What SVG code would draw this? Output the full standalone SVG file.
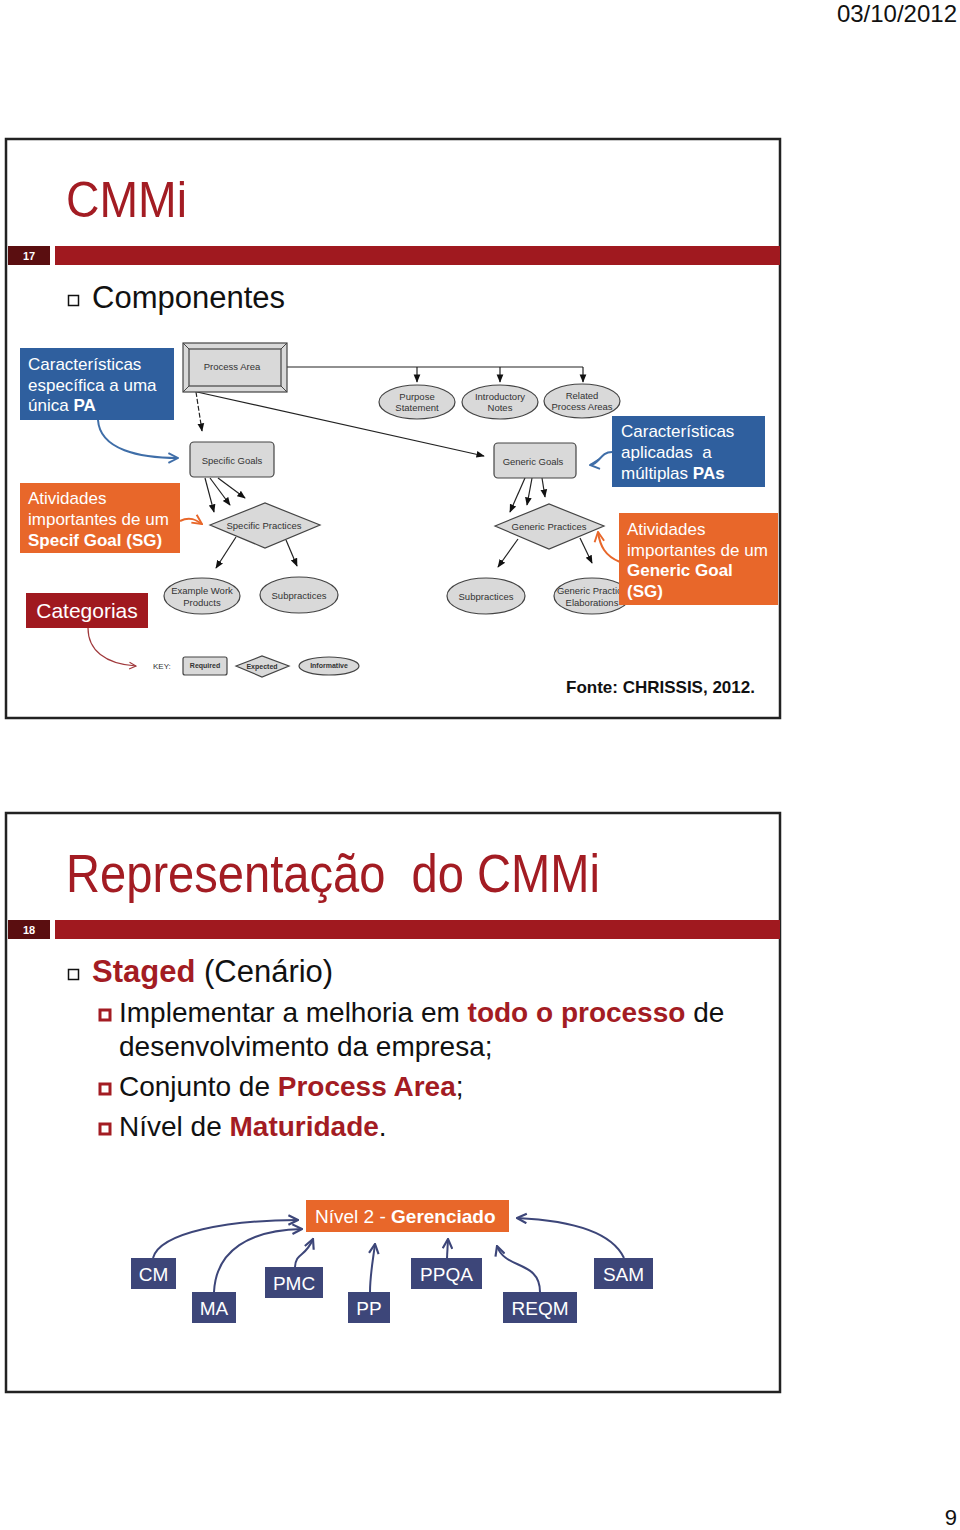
<svg xmlns="http://www.w3.org/2000/svg" width="960" height="1530" viewBox="0 0 960 1530">
<defs>
<style>
.frame{fill:#fff;stroke:#222;stroke-width:2.5}
.ttl{font-family:"Liberation Sans",Arial,sans-serif;fill:#a31c23}
.sans{font-family:"Liberation Sans",Arial,sans-serif}
.dg{font-family:"Liberation Sans",Arial,sans-serif;font-size:9.5px;fill:#333;text-anchor:middle}
.kt{font-family:"Liberation Sans",Arial,sans-serif;font-size:7px;font-weight:bold;fill:#333;text-anchor:middle}
.shape{fill:#d9d9d9;stroke:#444;stroke-width:1.2}
.edge{fill:none;stroke:#222;stroke-width:1.2}
.wt{fill:#fff;font-family:"Liberation Sans",Arial,sans-serif;font-size:17px}
.nv{fill:#3d4679}
.nvt{fill:#fff;font-family:"Liberation Sans",Arial,sans-serif;font-size:19px;text-anchor:middle}
.nvl{fill:none;stroke:#3d4679;stroke-width:2}
.sub{fill:none;stroke:#a31c23;stroke-width:3}
</style>
<marker id="ah" viewBox="0 0 10 10" refX="9" refY="5" markerWidth="7" markerHeight="7" orient="auto"><path d="M0,1 L10,5 L0,9 z" fill="#111"/></marker>
<marker id="chB" viewBox="0 0 10 10" refX="9" refY="5" markerWidth="6" markerHeight="6" orient="auto"><path d="M1,1 L9,5 L1,9" fill="none" stroke="#3f6ea8" stroke-width="1.6"/></marker>
<marker id="chO" viewBox="0 0 10 10" refX="9" refY="5" markerWidth="6" markerHeight="6" orient="auto"><path d="M1,1 L9,5 L1,9" fill="none" stroke="#e8672a" stroke-width="1.6"/></marker>
<marker id="chR" viewBox="0 0 10 10" refX="9" refY="5" markerWidth="7" markerHeight="7" orient="auto"><path d="M1,1 L9,5 L1,9" fill="none" stroke="#a0393c" stroke-width="1.3"/></marker>
<marker id="chN" viewBox="0 0 10 10" refX="9" refY="5" markerWidth="6" markerHeight="6" orient="auto"><path d="M1,1 L9,5 L1,9" fill="none" stroke="#3d4679" stroke-width="1.8"/></marker>
</defs>
<rect width="960" height="1530" fill="#fff"/>
<text x="957" y="22" class="sans" font-size="24" text-anchor="end" fill="#111">03/10/2012</text>
<text x="957" y="1525" class="sans" font-size="22" text-anchor="end" fill="#111">9</text>

<!-- Slide 17 -->
<g id="slide17">
<rect x="6" y="139" width="774" height="579" class="frame"/>
<text x="66" y="217" class="ttl" font-size="50" textLength="121" lengthAdjust="spacingAndGlyphs">CMMi</text>
<rect x="8" y="246" width="42" height="19" fill="#5a0e10"/>
<text x="29" y="260" class="sans" font-size="11" font-weight="bold" fill="#fff" text-anchor="middle">17</text>
<rect x="55" y="246" width="725" height="19" fill="#a0191f"/>
<rect x="68.5" y="295.5" width="10" height="10" fill="none" stroke="#111" stroke-width="1.5"/>
<text x="92" y="308" class="sans" font-size="31" fill="#111">Componentes</text>
</g>

<!-- Slide 18 -->
<g id="slide18">
<rect x="6" y="813" width="774" height="579" class="frame"/>
<text x="66" y="892" class="ttl" font-size="53" textLength="534" lengthAdjust="spacingAndGlyphs" xml:space="preserve">Representação  do CMMi</text>
<rect x="8" y="920" width="42" height="19" fill="#5a0e10"/>
<text x="29" y="934" class="sans" font-size="11" font-weight="bold" fill="#fff" text-anchor="middle">18</text>
<rect x="55" y="920" width="725" height="19" fill="#a0191f"/>
<rect x="68.5" y="969.5" width="10" height="10" fill="none" stroke="#111" stroke-width="1.5"/>
<text x="92" y="982" class="sans" font-size="31" fill="#111"><tspan fill="#a31c23" font-weight="bold">Staged</tspan> (Cenário)</text>
<rect x="100" y="1010" width="10" height="10" class="sub"/>
<text x="119" y="1022" class="sans" font-size="28" fill="#111">Implementar a melhoria em <tspan fill="#a31c23" font-weight="bold">todo o processo</tspan> de</text>
<text x="119" y="1056" class="sans" font-size="28" fill="#111">desenvolvimento da empresa;</text>
<rect x="100" y="1084" width="10" height="10" class="sub"/>
<text x="119" y="1096" class="sans" font-size="28" fill="#111">Conjunto de <tspan fill="#a31c23" font-weight="bold">Process Area</tspan>;</text>
<rect x="100" y="1124" width="10" height="10" class="sub"/>
<text x="119" y="1136" class="sans" font-size="28" fill="#111">Nível de <tspan fill="#a31c23" font-weight="bold">Maturidade</tspan>.</text>
</g>

<g id="connectors">
<polyline class="edge" points="287,367 583,367"/>
<line class="edge" x1="417" y1="367" x2="417" y2="382" marker-end="url(#ah)"/>
<line class="edge" x1="500" y1="367" x2="500" y2="382" marker-end="url(#ah)"/>
<line class="edge" x1="583" y1="367" x2="583" y2="382" marker-end="url(#ah)"/>
<line class="edge" x1="197" y1="392" x2="484" y2="456" marker-end="url(#ah)"/>
<line class="edge" x1="196" y1="392" x2="202" y2="431" stroke-dasharray="5 2" marker-end="url(#ah)"/>
<line class="edge" x1="205" y1="478" x2="214" y2="512" marker-end="url(#ah)"/>
<line class="edge" x1="210" y1="478" x2="230" y2="505" marker-end="url(#ah)"/>
<line class="edge" x1="218" y1="478" x2="245" y2="498" marker-end="url(#ah)"/>
<line class="edge" x1="236" y1="537" x2="216" y2="568" marker-end="url(#ah)"/>
<line class="edge" x1="286" y1="540" x2="297" y2="566" marker-end="url(#ah)"/>
<line class="edge" x1="525" y1="478" x2="510" y2="512" marker-end="url(#ah)"/>
<line class="edge" x1="532" y1="478" x2="527" y2="505" marker-end="url(#ah)"/>
<line class="edge" x1="542" y1="478" x2="545" y2="497" marker-end="url(#ah)"/>
<line class="edge" x1="518" y1="539" x2="498" y2="567" marker-end="url(#ah)"/>
<line class="edge" x1="580" y1="538" x2="592" y2="563" marker-end="url(#ah)"/>
<path d="M98,420 C100,450 140,458 178,458" fill="none" stroke="#3f6ea8" stroke-width="2" marker-end="url(#chB)"/>
<path d="M180,521 C190,516 196,520 202,524" fill="none" stroke="#e8672a" stroke-width="2" marker-end="url(#chO)"/>
<path d="M612,452 C600,452 600,464 590,465" fill="none" stroke="#3f6ea8" stroke-width="2" marker-end="url(#chB)"/>
<path d="M620,562 C605,556 600,546 598,532" fill="none" stroke="#e8672a" stroke-width="2" marker-end="url(#chO)"/>
<path d="M88,628 C88,650 105,664 136,666" fill="none" stroke="#a0393c" stroke-width="1.2" marker-end="url(#chR)"/>
<path class="nvl" d="M153,1258 C160,1232 230,1220 298,1220" marker-end="url(#chN)"/>
<path class="nvl" d="M214,1292 C216,1250 250,1230 302,1229" marker-end="url(#chN)"/>
<path class="nvl" d="M295,1267 C296,1252 305,1258 313,1239" marker-end="url(#chN)"/>
<path class="nvl" d="M370,1292 C370,1275 373,1260 375,1244" marker-end="url(#chN)"/>
<path class="nvl" d="M447,1258 L448,1239" marker-end="url(#chN)"/>
<path class="nvl" d="M540,1292 C540,1260 505,1270 497,1246" marker-end="url(#chN)"/>
<path class="nvl" d="M624,1258 C610,1228 560,1220 517,1218" marker-end="url(#chN)"/>
</g>

<g id="process-area">
<rect x="183" y="343" width="104" height="49" class="shape"/>
<rect x="189" y="349" width="92" height="37" class="shape"/>
<path d="M183,343 L189,349 M287,343 L281,349 M183,392 L189,386 M287,392 L281,386" stroke="#444" stroke-width="1"/>
<text x="232" y="370" class="dg">Process Area</text>
</g>
<g id="purpose-statement"><ellipse cx="417" cy="402" rx="38" ry="17" class="shape"/><text x="417" y="400" class="dg">Purpose</text><text x="417" y="411" class="dg">Statement</text></g>
<g id="introductory-notes"><ellipse cx="500" cy="402" rx="38" ry="17" class="shape"/><text x="500" y="400" class="dg">Introductory</text><text x="500" y="411" class="dg">Notes</text></g>
<g id="related-process-areas"><ellipse cx="582" cy="401" rx="38" ry="17" class="shape"/><text x="582" y="399" class="dg">Related</text><text x="582" y="410" class="dg">Process Areas</text></g>
<g id="specific-goals"><rect x="190" y="442" width="84" height="35" rx="4" class="shape"/><text x="232" y="464" class="dg">Specific Goals</text></g>
<g id="specific-practices"><polygon points="210,525 265,503 320,525 265,548" class="shape"/><text x="264" y="529" class="dg">Specific Practices</text></g>
<g id="example-work-products"><ellipse cx="202" cy="596" rx="38" ry="18" class="shape"/><text x="202" y="594" class="dg">Example Work</text><text x="202" y="606" class="dg">Products</text></g>
<g id="subpractices-1"><ellipse cx="299" cy="595" rx="39" ry="18" class="shape"/><text x="299" y="599" class="dg">Subpractices</text></g>
<g id="generic-goals"><rect x="494" y="443" width="82" height="35" rx="4" class="shape"/><text x="533" y="465" class="dg">Generic Goals</text></g>
<g id="generic-practices"><polygon points="495,526 549,504 604,526 549,549" class="shape"/><text x="549" y="530" class="dg">Generic Practices</text></g>
<g id="subpractices-2"><ellipse cx="486" cy="596" rx="39" ry="18" class="shape"/><text x="486" y="600" class="dg">Subpractices</text></g>
<g id="generic-practice-elaborations"><ellipse cx="592" cy="596" rx="38" ry="18" class="shape"/><text x="592" y="594" class="dg">Generic Practice</text><text x="592" y="606" class="dg">Elaborations</text></g>

<g id="callout-blue-1"><rect x="20" y="348" width="154" height="72" fill="#2f5f9e"/>
<text x="28" y="370" class="wt">Características</text><text x="28" y="391" class="wt">específica a uma</text><text x="28" y="411" class="wt">única <tspan font-weight="bold">PA</tspan></text></g>
<g id="callout-orange-1"><rect x="20" y="483" width="160" height="70" fill="#e8672a"/>
<text x="28" y="504" class="wt">Atividades</text><text x="28" y="525" class="wt">importantes de um</text><text x="28" y="546" class="wt" font-weight="bold">Specif Goal (SG)</text></g>
<g id="callout-blue-2"><rect x="612" y="416" width="153" height="71" fill="#2f5f9e"/>
<text x="621" y="437" class="wt">Características</text><text x="621" y="458" class="wt" xml:space="preserve">aplicadas  a</text><text x="621" y="479" class="wt">múltiplas <tspan font-weight="bold">PAs</tspan></text></g>
<g id="callout-orange-2"><rect x="619" y="513" width="159" height="92" fill="#e8672a"/>
<text x="627" y="535" class="wt">Atividades</text><text x="627" y="556" class="wt">importantes de um</text><text x="627" y="576" class="wt" font-weight="bold">Generic Goal</text><text x="627" y="597" class="wt" font-weight="bold">(SG)</text></g>
<g id="categorias"><rect x="26" y="593" width="122" height="35" fill="#a0191f"/><text x="87" y="618" class="sans" font-size="21" fill="#fff" text-anchor="middle">Categorias</text></g>

<g id="key">
<text x="153" y="669" class="sans" font-size="8" fill="#333">KEY:</text>
<rect x="183" y="657" width="44" height="18" rx="2" class="shape"/><text x="205" y="668" class="kt">Required</text>
<polygon points="236,666 262,656 289,666 262,677" class="shape"/><text x="262" y="669" class="kt">Expected</text>
<ellipse cx="329" cy="666" rx="30" ry="9" class="shape"/><text x="329" y="668" class="kt">Informative</text>
</g>
<text x="566" y="693" class="sans" font-size="17" font-weight="bold" fill="#111">Fonte: CHRISSIS, 2012.</text>

<g id="nivel2"><rect x="306" y="1200" width="203" height="32" fill="#e8672a"/><text x="315" y="1223" class="sans" font-size="19" fill="#fff">Nível 2 - <tspan font-weight="bold">Gerenciado</tspan></text></g>
<g id="cm"><rect x="131" y="1258" width="45" height="31" class="nv"/><text x="153.5" y="1281" class="nvt">CM</text></g>
<g id="ma"><rect x="192" y="1292" width="44" height="31" class="nv"/><text x="214" y="1315" class="nvt">MA</text></g>
<g id="pmc"><rect x="265" y="1267" width="58" height="31" class="nv"/><text x="294" y="1290" class="nvt">PMC</text></g>
<g id="pp"><rect x="348" y="1292" width="42" height="31" class="nv"/><text x="369" y="1315" class="nvt">PP</text></g>
<g id="ppqa"><rect x="411" y="1258" width="71" height="31" class="nv"/><text x="446.5" y="1281" class="nvt">PPQA</text></g>
<g id="reqm"><rect x="503" y="1292" width="74" height="31" class="nv"/><text x="540" y="1315" class="nvt">REQM</text></g>
<g id="sam"><rect x="594" y="1258" width="59" height="31" class="nv"/><text x="623.5" y="1281" class="nvt">SAM</text></g>
</svg>
